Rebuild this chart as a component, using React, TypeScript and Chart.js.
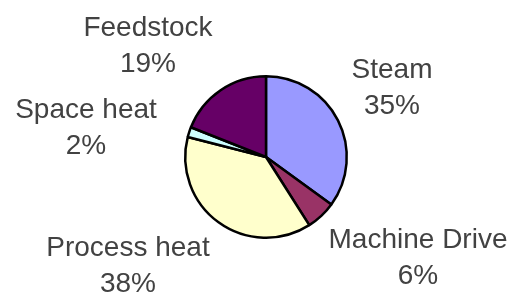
import React, { useEffect, useRef } from "react";
import { Chart, registerables } from "chart.js";

Chart.register(...registerables);

const categories = ["Steam", "Machine Drive", "Process heat", "Space heat", "Feedstock"];
const shares = [35, 6, 38, 2, 19];
const sliceColors = ["#9999FF", "#993366", "#FFFFCC", "#CCFFFF", "#660066"];

// label anchor positions (centre x, first-line centre y) in canvas pixels
const labelX = [392, 418, 128, 86, 148];
const labelY = [70, 240, 248, 110, 28];

const labelPlugin = {
  id: "sliceLabels",
  afterDraw(chart: any) {
    const ctx = chart.ctx as CanvasRenderingContext2D;
    ctx.save();
    ctx.fillStyle = "#424242";
    ctx.font = "28px 'Liberation Sans', Arial, sans-serif";
    ctx.textAlign = "center";
    ctx.textBaseline = "middle";
    const data = chart.data.datasets[0].data as number[];
    (chart.data.labels as string[]).forEach((lab, i) => {
      ctx.fillText(lab, labelX[i], labelY[i]);
      ctx.fillText(data[i] + "%", labelX[i], labelY[i] + 36);
    });
    ctx.restore();
  },
};

export default function App() {
  const ref = useRef<HTMLCanvasElement>(null);
  useEffect(() => {
    document.body.style.margin = "0";
    const chart = new Chart(ref.current!, {
      type: "pie",
      data: {
        labels: categories,
        datasets: [
          {
            data: shares,
            backgroundColor: sliceColors,
            borderColor: "#000000",
            borderWidth: 2.5,
          },
        ],
      },
      options: {
        responsive: false,
        animation: false,
        events: [],
        layout: { padding: { left: 184, right: 164, top: 75, bottom: 56 } },
        plugins: {
          legend: { display: false },
          tooltip: { enabled: false },
        },
      },
      plugins: [labelPlugin],
    });
    return () => chart.destroy();
  }, []);
  return (
    <div style={{ width: 512, height: 295, background: "#ffffff" }}>
      <canvas ref={ref} width={512} height={295} style={{ display: "block" }} />
    </div>
  );
}
